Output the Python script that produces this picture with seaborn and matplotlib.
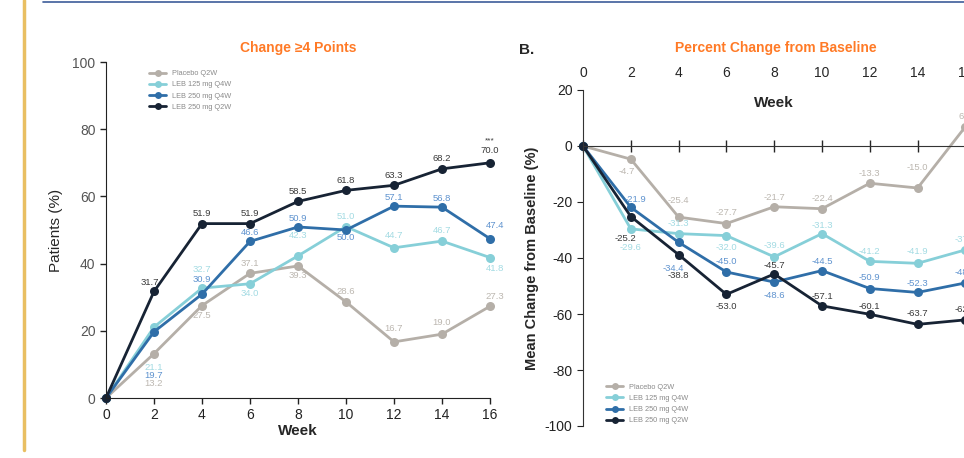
import matplotlib
matplotlib.use("Agg")
import numpy as np
import pandas as pd
import matplotlib.pyplot as plt
from matplotlib.lines import Line2D
import seaborn as sns

# ---- data ----
weeks = [0, 2, 4, 6, 8, 10, 12, 14, 16]
groups = ["Placebo Q2W", "LEB 125 mg Q4W", "LEB 250 mg Q4W", "LEB 250 mg Q2W"]

# panel A: patients (%) with change >=4 points
resp_placebo = [0, 13.2, 27.5, 37.1, 39.3, 28.6, 16.7, 19.0, 27.3]
resp_leb125_q4w = [0, 21.1, 32.7, 34.0, 42.3, 51.0, 44.7, 46.7, 41.8]
resp_leb250_q4w = [0, 19.7, 30.9, 46.6, 50.9, 50.0, 57.1, 56.8, 47.4]
resp_leb250_q2w = [0, 31.7, 51.9, 51.9, 58.5, 61.8, 63.3, 68.2, 70.0]

# panel B: mean percent change from baseline (week 16 mostly cut off in source)
pct_placebo = [0, -4.7, -25.4, -27.7, -21.7, -22.4, -13.3, -15.0, 6.9]
pct_leb125_q4w = [0, -29.6, -31.3, -32.0, -39.6, -31.3, -41.2, -41.9, -37.1]
pct_leb250_q4w = [0, -21.9, -34.4, -45.0, -48.6, -44.5, -50.9, -52.3, -48.9]
pct_leb250_q2w = [0, -25.2, -38.8, -53.0, -45.7, -57.1, -60.1, -63.7, -62.1]

# ---- style ----
line_colors = ["#b5afa8", "#86cfd8", "#2f6ea8", "#172334"]
label_colors = ["#bcb7b0", "#a3dbe3", "#5f93cf", "#3a3a3a"]
orange = "#ff7a26"

# label offsets in pixels (dx, dy), dy positive = up
offs_a = [
    [None, (0, -30), (0, -10), (0, 10), (0, -10), (0, 10), (0, 13), (0, 12), (5, 10)],
    [None, (0, -40), (0, 19), (0, -10), (0, 20), (0, 10), (0, 12), (0, 11), (5, -11)],
    [None, (0, -44), (0, 15), (0, 9), (0, 8), (0, -8), (0, 9), (0, 9), (5, 13)],
    [None, (-4, 9), (0, 10), (0, 10), (0, 10), (0, 10), (0, 10), (0, 10), (0, 12)],
]
offs_b = [
    [None, (-4, -12), (0, 17), (0, 11), (0, 9), (0, 10), (0, 10), (0, 20), (0, 10)],
    [None, (0, -19), (0, 10), (0, -12), (0, 11), (0, 8), (0, 10), (0, 12), (0, 10)],
    [None, (5, 8), (-5, -26), (0, 10), (0, -13), (0, 9), (0, 11), (0, 9), (0, 10)],
    [None, (-5, -22), (0, -21), (0, -12), (0, 8), (0, 9), (0, 8), (0, 11), (0, 10)],
]

sns.set_style("ticks")
plt.rcParams["font.family"] = ["Liberation Sans", "DejaVu Sans"]
plt.rcParams["axes.unicode_minus"] = False

fig = plt.figure(figsize=(9.64, 4.58), dpi=100)
W, H = 964, 458


def add_ax(x0, y0, x1, y1):
    # pixel box -> figure fraction
    return fig.add_axes([x0 / W, (H - y1) / H, (x1 - x0) / W, (y1 - y0) / H])


def draw_lines(ax, series):
    df = pd.DataFrame({
        "week": weeks * len(series),
        "value": np.concatenate(series),
        "group": np.repeat(groups, len(weeks)),
    })
    sns.lineplot(data=df, x="week", y="value", hue="group", hue_order=groups,
                 palette=dict(zip(groups, line_colors)), marker="o", markersize=6.5,
                 markeredgewidth=0, linewidth=2, legend=False, sort=False,
                 clip_on=False, ax=ax)


def add_labels(ax, series, offs):
    for vals, offsets, col in zip(series, offs, label_colors):
        for w, v, o in zip(weeks, vals, offsets):
            if o is None:
                continue
            ax.annotate(f"{v:.1f}", (w, v), xytext=o, textcoords="offset pixels",
                        ha="center", va="center", fontsize=6.8, color=col,
                        annotation_clip=False)


def add_legend(ax, anchor):
    handles = [Line2D([], [], color=c, marker="o", markersize=5, markeredgewidth=0, lw=2)
               for c in line_colors]
    ax.legend(handles, groups, loc="upper left", bbox_to_anchor=anchor, frameon=False,
              fontsize=5.3, labelcolor="#8a8a8a", handlelength=2.3, handletextpad=0.8,
              labelspacing=0.55, borderaxespad=0)


# ---- panel A ----
axa = add_ax(106, 62, 490, 398)
series_a = [resp_placebo, resp_leb125_q4w, resp_leb250_q4w, resp_leb250_q2w]
draw_lines(axa, series_a)
add_labels(axa, series_a, offs_a)
axa.annotate("***", (16, 70.0), xytext=(0, 22), textcoords="offset pixels",
             ha="center", va="center", fontsize=6, color="#3a3a3a")
axa.set_xlim(0, 16)
axa.set_ylim(0, 100)
axa.set_xticks(weeks)
axa.set_yticks(range(0, 101, 20))
axa.tick_params(labelsize=10, colors="#222222", length=4, width=1)
axa.tick_params(axis="y", labelcolor="#555555")
axa.set_xlabel("Week", fontsize=11, fontweight="bold", labelpad=1)
axa.set_ylabel("Patients (%)", fontsize=11, labelpad=7)
sns.despine(ax=axa)
for s in ("left", "bottom"):
    axa.spines[s].set_color("#222222")
add_legend(axa, (0.105, 0.985))
fig.text(298 / W, 1 - 48 / H, "Change \u22654 Points", color=orange, fontsize=10,
         fontweight="bold", ha="center", va="center")

# ---- panel B ----
axb = add_ax(583, 90, 583 + 23.9 * 17, 426)
series_b = [pct_placebo, pct_leb125_q4w, pct_leb250_q4w, pct_leb250_q2w]
draw_lines(axb, series_b)
add_labels(axb, series_b, offs_b)
axb.set_xlim(0, 17)
axb.set_ylim(-100, 20)
axb.set_xticks(weeks)
axb.set_yticks(range(-100, 21, 20))
axb.spines["bottom"].set_position(("data", 0))
axb.spines["top"].set_visible(False)
axb.spines["right"].set_visible(False)
for s in ("left", "bottom"):
    axb.spines[s].set_color("#333333")
axb.tick_params(axis="x", direction="inout", length=8, width=1, bottom=True,
                labelbottom=False, top=False, labeltop=True, labelsize=10, pad=3)
axb.tick_params(axis="y", length=4, labelsize=10, colors="#222222")
axb.set_xlabel("")
axb.set_ylabel("Mean Change from Baseline (%)", fontsize=10.5, fontweight="bold", labelpad=4)
axb.text(8, 15.4, "Week", ha="center", va="center", fontsize=11, fontweight="bold")
add_legend(axb, (0.05, 0.135))
fig.text(776 / W, 1 - 48 / H, "Percent Change from Baseline", color=orange, fontsize=10,
         fontweight="bold", ha="center", va="center")
fig.text(527 / W, 1 - 50 / H, "B.", fontsize=11, fontweight="bold", ha="center", va="center")

# ---- slide decorations ----
fig.add_artist(Line2D([24 / W, 24 / W], [8 / H, 1], color="#e9bf62", lw=2.5))
fig.add_artist(Line2D([43 / W, 1], [1 - 2 / H, 1 - 2 / H], color="#3d5c99", lw=1.2))

fig.savefig("out.png", dpi=100)
